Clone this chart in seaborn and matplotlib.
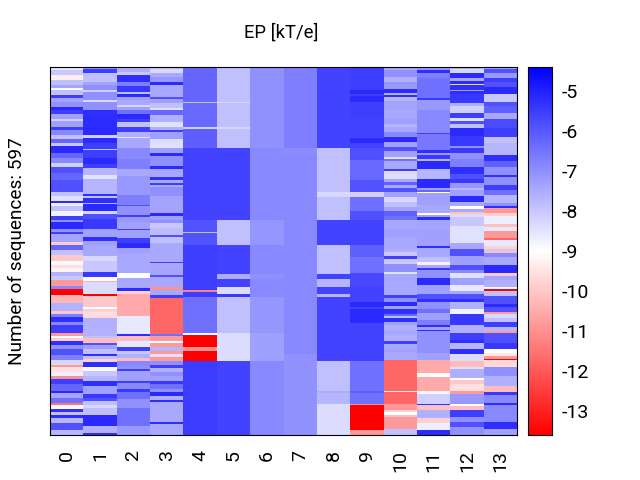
import numpy as np
import pandas as pd
import seaborn as sns
import matplotlib.pyplot as plt

N_SEQ = 597
positions = list(range(14))

# (number of sequences, EP value) read from top to bottom, one list per position
col_0 = [(5,-8.6),(8,-8.0),(8,-9.3),(8,-7.86),(5,-7.36),(3,-8.9),(8,-7.86),(5,-5.55),(7,-7.36),(8,-7.0),(4,-5.16),(8,-5.55),(7,-7.29),(4,-8.15),(10,-7.29),(5,-5.55),(7,-6.87),(6,-7.86),(8,-6.24),(4,-8.0),(12,-5.16),(8,-6.24),(8,-6.87),(6,-8.15),(10,-5.84),(11,-6.24),(15,-5.84),
         (4,-5.84),(8,-7.86),(7,-8.44),(4,-5.16),(5,-8.7),(8,-7.86),(8,-8.8),(7,-5.55),(2,-7.0),(12,-5.16),(5,-7.0),(3,-5.55),(13,-7.36),(5,-9.9),(8,-6.24),(8,-7.86),(9,-10.0),(7,-8.9),(5,-9.6),(6,-9.2),(7,-7.6),(6,-8.0),(10,-10.84),(5,-6.87),(10,-13.6),(13,-10.3),(13,-7.6),
         (4,-10.0),(6,-6.7),(8,-5.26),(4,-6.87),(14,-5.55),(4,-10.84),(4,-8.9),(5,-9.9),(6,-5.26),(7,-7.0),(9,-5.84),(8,-6.7),(8,-8.3),(4,-10.84),(7,-9.56),(7,-8.7),(5,-11.0),(8,-5.55),(12,-6.24),(3,-5.16),(8,-7.36),(8,-6.42),(4,-11.5),(6,-8.9),(5,-5.26),(5,-7.86),(4,-5.26),(8,-7.7),(12,-5.84),(5,-7.7)]
col_1 = [(4,-7.0),(5,-5.55),(15,-7.86),(5,-7.36),(8,-7.0),(4,-8.15),(12,-7.0),(4,-8.3),(12,-7.0),(10,-5.26),(20,-5.2),(11,-5.16),(5,-8.15),(8,-5.16),(10,-5.55),(2,-7.86),(12,-5.55),(11,-5.16),(6,-5.55),(12,-7.7),(5,-8.44),(19,-7.7),
         (6,-7.7),(3,-5.26),(3,-7.86),(8,-5.26),(2,-7.57),(11,-5.16),(5,-8.3),(9,-5.84),(15,-5.44),(14,-7.29),(6,-5.26),(8,-7.29),(16,-7.44),(9,-8.3),(18,-8.0),(7,-5.44),(7,-8.9),(1,-10.5),(7,-8.37),(13,-8.37),(4,-13.6),(17,-10.0),(3,-9.0),(5,-9.85),(5,-9.56),
         (5,-9.7),(15,-7.57),(14,-7.6),(4,-7.86),(7,-10.2),(4,-5.84),(7,-7.29),(8,-7.86),(3,-5.26),(5,-7.86),(5,-9.85),(7,-5.26),(7,-8.9),(8,-8.0),(8,-7.7),(9,-5.26),(12,-7.29),(7,-5.44),(5,-5.84),(7,-7.86),(5,-8.3),(10,-7.86),(19,-5.16),(11,-7.57),(5,-5.26)]
col_2 = [(8,-7.57),(5,-8.0),(4,-5.26),(7,-5.26),(7,-6.7),(9,-5.44),(4,-7.86),(4,-5.16),(6,-7.29),(8,-7.44),(3,-8.3),(4,-7.29),(8,-6.42),(7,-5.16),(6,-5.55),(8,-7.86),(7,-5.55),(8,-7.57),(2,-8.44),(16,-7.44),(19,-6.87),(16,-6.7),(11,-7.44),(22,-7.15),
         (9,-7.15),(16,-6.7),(2,-5.84),(14,-7.0),(3,-5.55),(8,-7.15),(11,-7.29),(3,-5.55),(13,-7.29),(8,-5.55),(7,-5.16),(9,-7.29),(13,-7.44),(19,-7.44),(9,-9.0),(16,-7.44),(4,-5.16),(5,-9.85),(33,-10.53),
         (3,-10.53),(29,-8.6),(3,-5.26),(8,-10.2),(11,-8.6),(5,-5.55),(6,-8.0),(6,-7.57),(5,-10.2),(8,-6.87),(5,-7.0),(3,-5.55),(17,-7.29),(2,-5.55),(11,-6.87),(4,-5.44),(12,-6.42),(14,-7.0),(30,-6.42),(16,-7.15)]
col_3 = [(4,-7.86),(6,-8.3),(6,-7.44),(8,-7.15),(5,-5.16),(12,-7.44),(7,-7.44),(4,-5.84),(7,-7.29),(7,-7.86),(4,-8.44),(8,-6.24),(11,-7.57),(8,-8.44),(5,-7.57),(3,-5.55),(11,-7.29),(8,-8.37),(7,-8.44),(9,-7.29),(4,-5.16),(16,-7.0),(6,-5.16),(13,-7.44),(4,-5.26),(5,-7.44),(3,-5.55),(4,-7.44),(5,-7.0),
         (10,-7.0),(27,-7.36),(5,-5.16),(6,-7.29),(5,-7.0),(8,-8.0),(11,-7.8),(3,-5.84),(11,-7.86),(30,-7.44),(2,-5.55),(9,-7.44),(11,-7.36),(3,-5.84),(16,-7.44),(4,-11.0),(9,-7.44),(4,-5.55),(30,-11.76),
         (29,-11.76),(3,-6.42),(9,-10.84),(3,-9.0),(7,-10.84),(5,-7.7),(5,-10.84),(5,-8.44),(7,-10.84),(7,-7.0),(5,-5.55),(5,-7.57),(8,-7.0),(8,-7.29),(5,-5.44),(7,-6.42),(6,-7.0),(6,-5.16),(7,-7.57),(3,-5.26),(32,-7.44),(3,-5.26),(18,-7.44)]
col_4 = [(57,-6.24),(2,-7.86),(38,-6.3),(4,-8.15),(31,-6.1),(117,-5.6),(18,-5.9),(3,-7.86),(19,-5.9),(73,-5.55),(3,-11.3),(8,-5.5),(59,-6.42),(2,-9.0),(20,-13.6),(6,-11.0),(17,-13.6),(120,-5.5)]
col_5 = [(57,-7.86),(2,-8.3),(38,-7.86),(4,-8.3),(31,-7.86),(117,-5.6),(40,-7.86),(47,-5.6),(8,-7.5),(13,-5.6),(11,-8.37),(5,-5.45),(59,-7.86),(45,-8.37),(120,-5.6)]
col_6 = [(132,-7.0),(117,-6.87),(40,-7.1),(47,-6.87),(8,-7.0),(29,-6.87),(59,-7.1),(45,-7.3),(120,-6.87)]
col_7 = [(132,-6.7),(10,-6.95),(1,-7.9),(323,-6.87),(11,-7.0),(120,-7.05)]
col_8 = [(132,-5.6),(10,-7.86),(1,-8.8),(60,-7.86),(8,-8.3),(38,-7.86),(40,-5.6),(47,-7.86),(8,-5.6),(13,-7.7),(11,-5.6),(5,-7.7),(104,-5.6),(49,-7.86),(3,-7.5),(18,-7.7),(50,-8.37)]
col_9 = [(38,-5.55),(5,-5.16),(4,-5.55),(10,-5.16),(28,-5.55),(30,-5.6),(9,-5.16),(8,-5.6),(19,-5.84),(33,-6.3),(19,-5.9),(8,-8.2),(22,-6.42),(16,-5.84),(40,-5.6),(20,-6.13),(26,-6.42),(21,-5.7),(25,-5.6),(8,-5.16),(4,-5.6),(22,-5.16),(11,-5.6),(51,-5.6),(49,-6.42),(3,-6.13),(18,-6.42),(2,-11.0),(40,-13.6),(8,-10.84)]
col_10 = [(5,-7.44),(12,-7.0),(7,-7.57),(12,-7.15),(6,-5.16),(4,-7.57),(2,-5.26),(7,-7.7),(14,-7.36),(15,-7.44),(1,-5.55),(8,-7.29),(5,-7.7),(8,-7.44),(7,-6.87),(9,-5.16),(8,-7.29),(7,-5.84),(9,-7.29),(3,-8.44),(3,-6.42),(14,-7.44),(3,-5.55),(12,-8.37),(6,-7.44),(5,-6.13),(5,-7.44),
          (6,-5.84),(8,-7.29),(8,-8.3),(8,-7.86),(7,-7.36),(7,-6.13),(8,-6.42),(13,-7.44),(14,-7.29),(19,-7.44),(5,-7.57),(7,-8.0),(4,-5.55),(8,-8.0),(14,-7.0),(3,-8.44),(19,-7.44),(15,-7.44),(4,-5.55),(8,-7.0),(6,-5.16),(5,-7.29),(7,-5.26),
          (4,-6.24),(4,-7.86),(6,-5.26),(4,-7.29),(8,-7.57),(8,-7.44),(11,-7.57),(5,-5.55),(8,-7.44),(5,-7.29),(13,-7.44),(49,-11.76),(3,-8.6),(18,-11.76),(10,-10.84),(4,-9.85),(4,-9.0),(4,-10.14),(19,-10.84),(10,-7.86)]
col_11 = [(5,-7.15),(4,-5.26),(9,-6.7),(17,-6.42),(16,-6.42),(3,-5.44),(16,-7.15),(15,-6.87),(22,-6.87),(2,-5.55),(25,-6.57),(5,-5.26),(4,-7.15),(7,-5.44),(2,-7.7),(14,-5.16),(15,-7.7),(15,-5.16),(4,-7.29),
          (2,-6.24),(2,-9.0),(20,-7.29),(13,-7.44),(3,-9.0),(4,-7.29),(4,-5.26),(16,-7.36),(27,-7.29),(3,-5.26),(15,-7.44),(8,-7.86),(4,-9.3),(5,-7.44),(4,-5.44),(13,-7.0),(10,-5.16),(16,-7.29),(8,-5.84),(4,-5.26),(11,-7.0),(7,-6.42),
          (12,-7.3),(8,-6.7),(2,-5.26),(5,-7.29),(2,-5.26),(20,-7.0),(16,-7.0),(12,-7.29),(20,-10.53),(7,-9.0),(22,-10.53),(5,-9.2),(16,-8.15),(2,-5.26),(8,-10.14),(14,-7.57),(8,-9.85),(11,-8.7),(8,-5.16)]
col_12 = [(3,-7.7),(7,-8.3),(8,-5.16),(5,-7.44),(4,-5.16),(3,-8.37),(7,-5.26),(2,-7.29),(5,-5.26),(15,-5.44),(5,-7.57),(11,-8.15),(8,-5.55),(4,-8.44),(6,-5.84),(6,-7.86),(13,-5.16),(16,-5.44),(3,-7.0),(8,-5.44),(11,-7.0),(12,-6.7),(12,-5.26),(7,-5.84),(7,-5.44),(8,-7.15),(3,-7.7),
          (11,-7.29),(9,-5.16),(7,-7.44),(5,-9.0),(5,-7.44),(3,-10.14),(5,-8.37),(14,-8.0),(27,-8.44),(11,-7.44),(11,-5.84),(14,-7.29),(8,-5.84),(5,-6.87),(8,-8.44),(11,-7.29),(11,-8.6),(5,-7.44),(8,-5.84),(4,-5.26),(12,-7.57),(8,-8.8),
          (18,-5.44),(13,-7.57),(11,-5.55),(5,-5.26),(10,-7.7),(8,-5.26),(11,-8.37),(10,-10.2),(3,-8.44),(15,-7.57),(3,-9.0),(7,-10.0),(10,-9.56),(5,-10.84),(17,-7.15),(3,-8.9),(7,-10.2),(11,-5.55),(8,-7.0),(8,-5.84),(14,-7.0)]
col_13 = [(4,-7.44),(5,-5.84),(9,-7.15),(7,-5.55),(7,-5.84),(12,-5.16),(12,-8.0),(8,-5.84),(11,-6.13),(10,-7.44),(14,-5.73),(15,-5.55),(10,-7.86),(19,-7.7),(9,-5.26),(10,-6.13),(13,-7.0),(4,-5.26),(12,-7.0),(8,-5.55),
          (9,-6.42),(12,-7.7),(5,-7.0),(4,-5.26),(8,-10.84),(5,-9.85),(13,-8.7),(4,-10.14),(7,-8.6),(12,-10.84),(3,-11.76),(9,-8.6),(5,-9.85),(3,-8.0),(3,-10.14),(7,-6.87),(13,-7.44),(14,-5.16),(4,-10.0),(7,-7.36),(11,-7.57),(3,-9.0),(3,-13.6),(8,-7.86),(13,-5.84),(5,-5.16),(8,-5.84),(3,-10.84),
          (8,-8.3),(6,-7.86),(8,-5.55),(7,-7.7),(3,-10.84),(16,-5.84),(10,-5.44),(6,-9.0),(5,-9.4),(4,-10.84),(2,-13.6),(11,-9.7),(15,-7.0),(17,-7.57),(9,-10.2),(5,-5.44),(13,-6.87),(3,-5.26),(28,-6.87),(11,-5.26),(10,-7.29)]
columns = [col_0, col_1, col_2, col_3, col_4, col_5, col_6, col_7, col_8, col_9, col_10, col_11, col_12, col_13]


def expand(runs):
    vals = np.repeat([r[1] for r in runs], [r[0] for r in runs])
    if len(vals) < N_SEQ:
        vals = np.concatenate([vals, np.full(N_SEQ - len(vals), vals[-1])])
    return vals[:N_SEQ]


df = pd.DataFrame({p: expand(c) for p, c in zip(positions, columns)})

plt.rcParams['font.family'] = 'Roboto'
plt.rcParams['axes.unicode_minus'] = False
fig = plt.figure(figsize=(6.4, 4.8), dpi=100)
ax = fig.add_axes([50 / 640, 1 - 435 / 480, 467 / 640, 368 / 480])
cax = fig.add_axes([528 / 640, 1 - 435 / 480, 23.5 / 640, 368 / 480])

sns.heatmap(df, ax=ax, cbar_ax=cax, cmap='bwr_r', vmin=-13.6, vmax=-4.4, yticklabels=False, rasterized=True)
ax.set_ylabel('Number of sequences: 597', fontsize=13.7, labelpad=17)
ax.tick_params(axis='x', labelsize=14, labelrotation=90, length=0, pad=11)
ax.set_title('EP [kT/e]', fontsize=13.3, pad=21, x=0.495)
for s in ax.spines.values():
    s.set_visible(True)
cax.set_yticks(range(-13, -4))
cax.tick_params(labelsize=14, length=0, pad=7)
for s in cax.spines.values():
    s.set_visible(True)

fig.savefig('out.png', dpi=100)
